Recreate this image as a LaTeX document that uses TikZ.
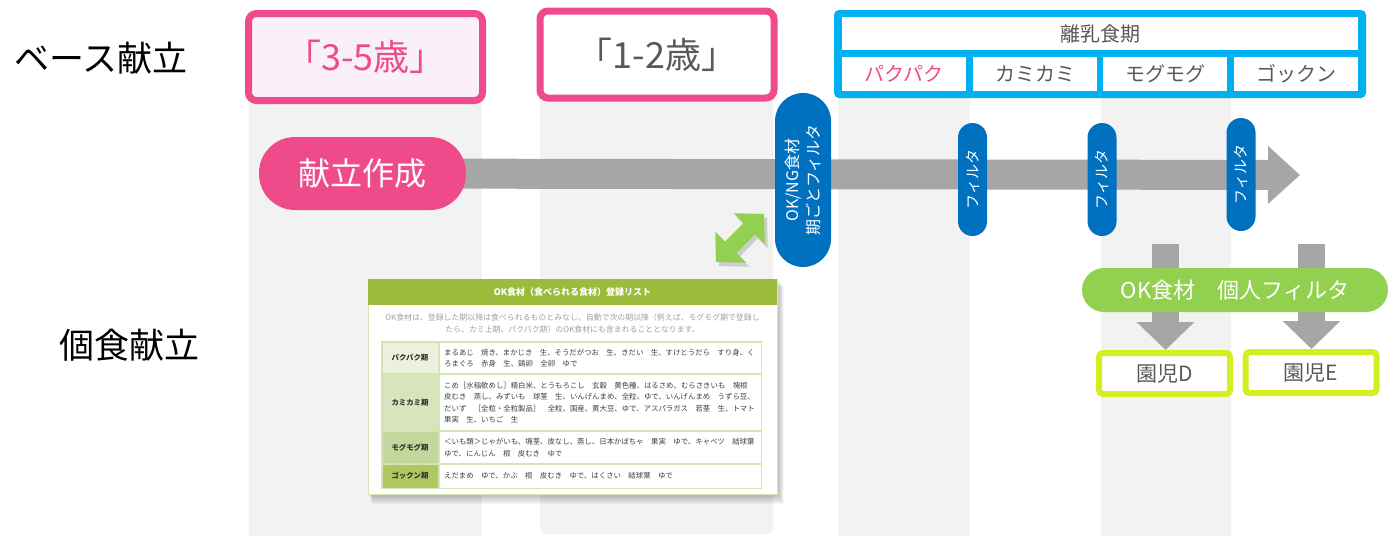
\documentclass[tikz,border=0pt]{standalone}
\usepackage{fontspec}
\setmainfont{Noto Sans CJK JP}
\usetikzlibrary{arrows.meta}
\pgfdeclarelayer{bg}
\pgfsetlayers{bg,main}
\definecolor{cPink}{HTML}{EF4A8A}
\definecolor{cPinkBg}{HTML}{FAF0F7}
\definecolor{cStripe}{HTML}{F2F2F2}
\definecolor{cArrow}{HTML}{A6A6A6}
\definecolor{cSky}{HTML}{00B0F0}
\definecolor{cBlue}{HTML}{0070C0}
\definecolor{cGreen}{HTML}{92D050}
\definecolor{cYel}{HTML}{D4EE22}
\definecolor{cText}{HTML}{595959}
\definecolor{cHead}{HTML}{9BBB3B}
\definecolor{cLine}{HTML}{D5E3B5}
\definecolor{cR1}{HTML}{EBF1DE}
\definecolor{cR2}{HTML}{D7E4BC}
\definecolor{cR3}{HTML}{C3D69B}
\definecolor{cR4}{HTML}{AFC760}
\definecolor{cDesc}{HTML}{A0A0A0}
\tikzset{
  fs/.style={font=\fontsize{#1}{#1}\selectfont},
  agebox/.style={draw=cPink, line width=7pt, rounded corners=8pt, minimum width=234pt, minimum height=87pt, inner sep=0pt},
  cell/.style={fill=white, minimum height=34pt, minimum width=124pt, inner sep=0pt, text=cText, fs=20},
  vpill/.style={fill=cBlue, text=white, rotate=90, inner sep=0pt, align=center},
  kid/.style={draw=cYel, fill=white, line width=6pt, rounded corners=4pt, minimum width=131pt, minimum height=41pt, inner sep=0pt, text=cText, fs=21},
  lab/.style={font=\fontsize{7.4}{11.5}\selectfont\bfseries, text=black!80, inner sep=0pt},
  cont/.style={font=\fontsize{7.4}{11.5}\selectfont, text=black!75, align=left, anchor=west, inner sep=0pt},
  downarrow/.style={draw=cArrow, line width=27pt, -{Triangle[width=56pt,length=28pt]}},
}
\begin{document}
\begin{tikzpicture}[x=1pt,y=-1pt]
\useasboundingbox (0,0) rectangle (1388,536);
% stripes
\begin{pgfonlayer}{bg}
\fill[cStripe] (249,60) rectangle (482,536);
\fill[cStripe, rounded corners=6pt] (540,60) rectangle (773,534);
\fill[cStripe] (838,60) rectangle (970,536);
\fill[cStripe] (1101,60) rectangle (1231,536);
\end{pgfonlayer}
% left labels
\node[fs=35, text=black, inner sep=0pt] (base) at (101,58) {ベース献立};
\node[fs=35, text=black, inner sep=0pt] (indiv) at (129,345) {個食献立};
% age boxes
\node[agebox, fill=cPinkBg, text=cPink, fs=36] (age35) at (365.5,57) {「3-5歳」};
\node[agebox, fill=white, text=cText, fs=36] (age12) at (657,54.5) {「1-2歳」};
% weaning box
\node[fill=cSky, rounded corners=5pt, minimum width=532pt, minimum height=88pt, inner sep=0pt] (wean) at (1100,54) {};
\node[fill=white, minimum width=516pt, minimum height=33pt, inner sep=0pt, text=cText, fs=20] (weantitle) at (1100,33.5) {離乳食期};
\node[cell, text=cPink] (pk) at (904,74) {パクパク};
\node[cell] (km) at (1035,74) {カミカミ};
\node[cell] (mg) at (1165,74) {モグモグ};
\node[cell] (gk) at (1296,74) {ゴックン};
% plan pill
\node[fill=cPink, text=white, fs=32, minimum width=207pt, minimum height=73pt, rounded corners=36pt, inner sep=0pt] (plan) at (362.5,173.5) {献立作成};
\coordinate (mainend) at (1300,175);
\begin{pgfonlayer}{bg}
\draw[draw=cArrow, line width=30pt, -{Triangle[width=56pt,length=32pt]}] (plan.center) -- (mainend);
\end{pgfonlayer}
% blue pills
\node[vpill, minimum width=174pt, minimum height=56pt, rounded corners=28pt, font=\fontsize{16}{21}\selectfont] (okng) at (803,180) {OK/NG食材\\期ごとフィルタ};
\node[vpill, minimum width=113pt, minimum height=29pt, rounded corners=14.5pt, fs=15] (f1) at (972.5,179.5) {フィルタ};
\node[vpill, minimum width=113pt, minimum height=29pt, rounded corners=14.5pt, fs=15] (f2) at (1102,179.5) {フィルタ};
\node[vpill, minimum width=113pt, minimum height=29pt, rounded corners=14.5pt, fs=15] (f3) at (1241,174.5) {フィルタ};
% green double arrow
\begin{scope}[shift={(743,242)}, rotate=45]
\fill[black, opacity=0.15] (-34,0) -- (-13,22) -- (-13,8) -- (13,8) -- (13,22) -- (34,0) -- (13,-22) -- (13,-8) -- (-13,-8) -- (-13,-22) -- cycle;
\end{scope}
\begin{scope}[shift={(740,238)}, rotate=45]
\fill[cGreen] (-34,0) -- (-13,22) -- (-13,8) -- (13,8) -- (13,22) -- (34,0) -- (13,-22) -- (13,-8) -- (-13,-8) -- (-13,-22) -- cycle;
\end{scope}
% card shadow
\foreach \d in {1,...,8}{
  \fill[black, opacity=0.035] (368+\d*0.5,279+\d*1.0) rectangle (777+\d*0.9,494+\d*1.3);
}
% card
\node[draw=cLine, line width=1pt, fill=white, minimum width=409pt, minimum height=215pt, inner sep=0pt] (card) at (572.5,386.5) {};
\node[fill=cHead, minimum width=409pt, minimum height=26pt, inner sep=0pt, text=white, font=\fontsize{9}{10}\selectfont\bfseries] (cardhead) at (572.5,292) {OK食材（食べられる食材）登録リスト};
\node[text=cDesc, align=center, font=\fontsize{7.9}{12}\selectfont, inner sep=0pt] (desc) at (572.5,323) {OK食材は、登録した期以降は食べられるものとみなし、自動で次の期以降（例えば、モグモグ期で登録し\\たら、カミ上期、パクパク期）のOK食材にも含まれることとなります。};
% table
\fill[cLine] (381,341) rectangle (762,489);
\fill[cR1] (382.5,342.5) rectangle (438,373);
\fill[white] (439.5,342.5) rectangle (760.5,373);
\fill[cR2] (382.5,375) rectangle (438,430);
\fill[white] (439.5,375) rectangle (760.5,430);
\fill[cR3] (382.5,432) rectangle (438,463);
\fill[white] (439.5,432) rectangle (760.5,463);
\fill[cR4] (382.5,465) rectangle (438,487.5);
\fill[white] (439.5,465) rectangle (760.5,487.5);
\node[lab] (l1) at (410,358) {パクパク期};
\node[lab] (l2) at (410,402.5) {カミカミ期};
\node[lab] (l3) at (410,447.5) {モグモグ期};
\node[lab] (l4) at (410,476) {ゴックン期};
\node[cont] (c1) at (444,358) {まるあじ　焼き、まかじき　生、そうだがつお　生、きだい　生、すけとうだら　すり身、く\\ろまぐろ　赤身　生、鶏卵　全卵　ゆで};
\node[cont] (c2) at (444,402.5) {こめ［水稲軟めし］精白米、とうもろこし　玄穀　黄色種、はるさめ、むらさきいも　塊根\\皮むき　蒸し、みずいも　球茎　生、いんげんまめ、全粒、ゆで、いんげんまめ　うずら豆、\\だいず　［全粒・全粒製品］　全粒、国産、黄大豆、ゆで、アスパラガス　若茎　生、トマト\\果実　生、いちご　生};
\node[cont] (c3) at (444,447.5) {＜いも類＞じゃがいも、塊茎、皮なし、蒸し、日本かぼちゃ　果実　ゆで、キャベツ　結球葉\\ゆで、にんじん　根　皮むき　ゆで};
\node[cont] (c4) at (444,476) {えだまめ　ゆで、かぶ　根　皮むき　ゆで、はくさい　結球葉　ゆで};
% kids
\node[kid] (kidD) at (1164.5,373.5) {園児D};
\node[kid] (kidE) at (1311,372.5) {園児E};
\coordinate (dtop) at (1165.5,244);
\coordinate (etop) at (1311.5,244);
\draw[downarrow] (dtop) -- (dtop |- kidD.north);
\draw[downarrow] (etop) -- (etop |- kidE.north);
% green pill
\node[fill=cGreen, text=white, fs=22, minimum width=306pt, minimum height=44pt, rounded corners=22pt, inner sep=0pt] (okfilter) at (1235,290) {OK食材　個人フィルタ};
\end{tikzpicture}
\end{document}
